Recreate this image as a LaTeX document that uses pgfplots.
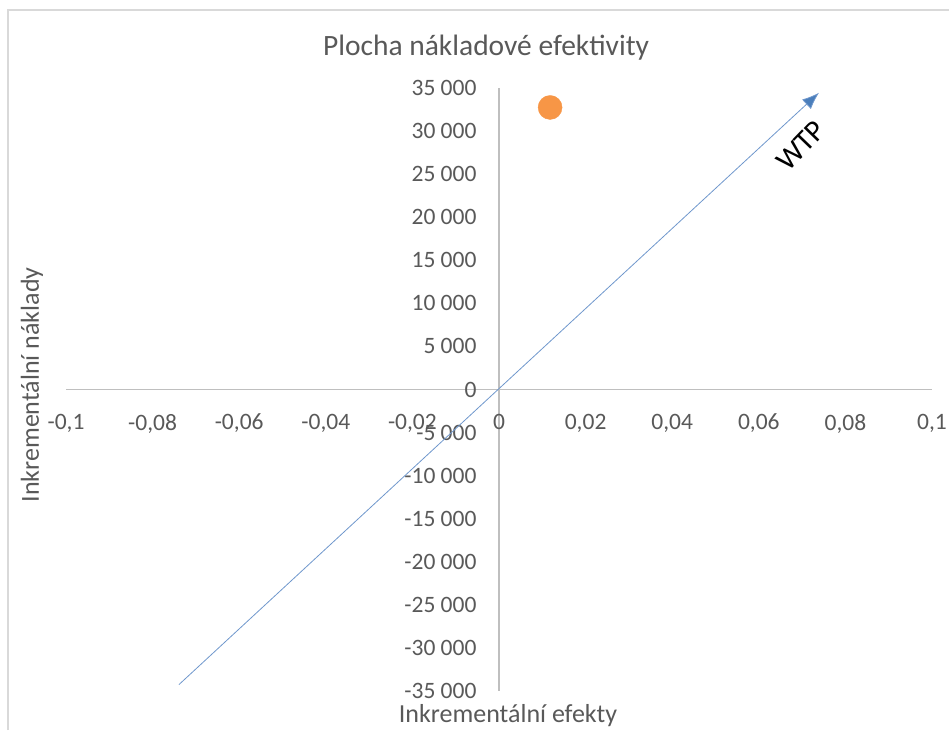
\documentclass[border=0pt]{standalone}
\usepackage{fontspec}
\setmainfont{Carlito}
\usepackage{pgfplots}
\pgfplotsset{compat=1.18}
\usetikzlibrary{arrows.meta}
\definecolor{axgray}{HTML}{BFBFBF}
\definecolor{txtgray}{HTML}{595959}
\definecolor{wtpblue}{HTML}{4A7EBB}
\definecolor{wtpline}{HTML}{6F97CC}
\definecolor{ptorange}{HTML}{F79646}
\begin{document}
\begin{tikzpicture}[x=1pt,y=1pt]
\useasboundingbox (0,0) rectangle (949,730);
\draw[color=black!15, line width=1.5pt] (8,0) -- (8,720) -- (949,720);
\begin{axis}[at={(66pt,39pt)}, anchor=south west, scale only axis,
  width=866pt, height=603pt,
  xmin=-0.1, xmax=0.1, ymin=-35000, ymax=35000,
  axis lines=middle, axis line style={-, axgray, line width=1.3pt},
  xtick={-0.1,-0.08,-0.06,-0.04,-0.02,0,0.02,0.04,0.06,0.08,0.1},
  xticklabels={{-0,1},{-0,08},{-0,06},{-0,04},{-0,02},{0},{0,02},{0,04},{0,06},{0,08},{0,1}},
  ytick={-35000,-30000,-25000,-20000,-15000,-10000,-5000,0,5000,10000,15000,20000,25000,30000,35000},
  yticklabels={{-35 000},{-30 000},{-25 000},{-20 000},{-15 000},{-10 000},{-5 000},{0},{5 000},{10 000},{15 000},{20 000},{25 000},{30 000},{35 000}},
  major tick length=0pt,
  hide obscured x ticks=false, hide obscured y ticks=false,
  scaled x ticks=false, scaled y ticks=false,
  tick label style={font=\fontsize{23.5}{28}\selectfont, text=txtgray},
  xticklabel style={anchor=north, yshift=-21pt},
  yticklabel style={anchor=east, xshift=-19pt},
  clip=false,
]
\addplot[wtpline, line width=0.8pt, -{Latex[length=17pt,width=13pt,fill=wtpblue]}] coordinates {(-0.0739,-34250) (0.0739,34450)};
\addplot[only marks, mark=*, mark size=12pt, mark options={draw=ptorange, fill=ptorange}] coordinates {(0.0118,32740)};
\node[rotate=46, font=\fontsize{30}{34}\selectfont] at (axis cs:0.0697,28300) {WTP};
\end{axis}
\node[font=\fontsize{29.5}{34}\selectfont, text=txtgray] at (486,682) {Plocha nákladové efektivity};
\node[rotate=90, font=\fontsize{26}{30}\selectfont, text=txtgray] at (32,345) {Inkrementální náklady};
\node[font=\fontsize{26}{30}\selectfont, text=txtgray] at (508,14) {Inkrementální efekty};
\end{tikzpicture}
\end{document}
